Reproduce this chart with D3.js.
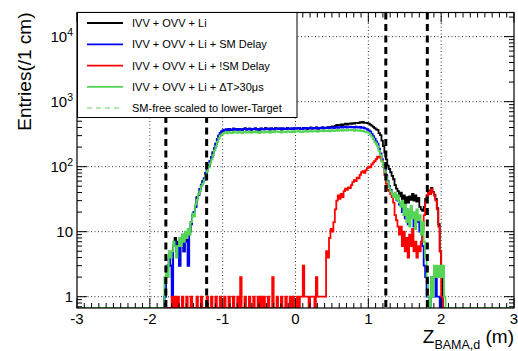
<!DOCTYPE html>
<html><head><meta charset="utf-8">
<script src="https://cdn.jsdelivr.net/npm/d3@7"></script>
<style>
body{margin:0;background:#fff}
svg{display:block;font-family:"Liberation Sans",Arial,Helvetica,sans-serif}
</style>
</head><body>
<svg id="c" width="518" height="351"></svg>
<script>
// ---------------- data (entries per bin, bin width 0.02 m) ----------------
const binWidth = 0.02;
const riseStart = -1.84, plateauStart = -0.98, fallStart = 1.00;

const blackRise = [0,0,1,2,3,4,3,2,6,8, 5,7,3,7,9,5,9,8,3,10, 14,18,20,24,34,37,45,53,60,66,
  80,93,105,122,141,165,195,226,265,300, 331,350,360];
const blackPlateau = [369,375,362,381,371,366,385,373,378,370, 382,376,365,379,387,371,377,384,368,380,
  377,389,372,382,367,386,378,375,390,379, 384,371,387,382,376,392,385,378,386,374,
  389,381,378,393,385,381,388,377,391,384, 388,395,383,380,393,387,395,382,388,398,
  386,393,389,400,384,395,391,402,388,397, 397,407,397,409,415,407,422,438,432,434,
  448,432,447,458,444,455,461,455,467,460, 471,472,466,483,478,487,470,473,467];
const blackFall = [460,443,428,410,392,375,367,328,305,252, 208,165,129,104,92,82,72,64,52,46, 42,35,
  40,30,36,27,34,28,35,31,38,30,36,29,33,24,
  22,21,24,32,36,43,38,47,41,37,32,23,13,5,2,0,0,0];

const blueRise = [0,0,1,2,3,4,3,1,6,7, 5,6,3,7,8,5,9,7,3,10, 13,18,20,24,33,37,45,52,60,66,
  80,92,105,122,140,165,195,225,265,300, 330,350,360];
const bluePlateau = [368,375,362,380,371,366,384,373,378,369, 382,374,365,379,386,371,377,383,368,380,
  376,389,372,381,367,385,378,374,390,379, 383,371,387,380,376,392,384,378,386,373,
  389,381,377,393,385,380,388,376,391,384, 387,395,382,379,390,386,394,381,388,397,
  385,392,389,398,383,394,390,401,387,396, 392,403,389,398,405,393,400,408,396,402,
  410,398,405,412,400,407,414,403,409,398, 411,404,400,408,396,402,390,385,372];
const blueFall = [360,345,320,295,270,245,225,190,160,130, 108,90,74,60,50,44,38,36,34,31,
  30,26,28,20,24,16,22,13,20,17, 18,12,19,14,16,10,12,6,3,2, 1,1,0,2,1,1,2,1,1,0, 1,0,0,0];

const redRise = [0,0,0,0,0,0,0,1,0,1, 0,1,0,0,1,0,0,1,0,0, 1,0,0,0,1,0,0,1,0,0,
  0,1,0,0,1,0,0,1,0,0, 1,0,0];
const redPlateau = [1,0,0,1,0,0,1,0,0,1, 0,2,0,0,1,0,0,1,0,0, 1,0,0,1,0,1,0,1,0,0,
  1,0,0,2,0,0,1,0,0,1, 0,0,1,0,0,1,0,1,0,0, 1,0,1,1,3,1,1,1,0,1,
  1,1,0,2,1,1,1,1,1,1, 5,4,8,11,10,14,22,30,36,32, 38,34,42,46,44,48,47,52,58,62,
  60,68,66,75,82,85,80,88,95];
const redFall = [100,98,108,115,122,130,142,138,145,122, 100,75,55,44,42,38,34,28,18,15,
  12,9,12,6,10,5,8,4,9,6, 11,5,7,4,6,5,7,11,18,28, 35,42,38,45,40,36,30,22,12,5, 1,0,0,0];

const greenRise = [0,0,2,3,2,5,4,5,7,6, 4,6,8,6,9,7,10,8,11,9, 14,19,17,26,31,38,42,50,55,62,
  74,85,98,112,128,150,178,205,240,275, 300,315,325];
const greenPlateau = [330,338,326,342,333,328,345,335,339,331, 343,336,327,340,347,333,338,344,330,341,
  337,349,334,342,329,346,339,335,350,340, 344,332,348,341,337,352,345,339,347,334,
  350,342,338,353,346,341,349,337,352,345, 348,355,343,340,351,347,354,342,349,357,
  346,352,350,358,344,354,351,360,348,356, 352,362,349,357,364,353,359,366,355,361,
  368,357,363,369,358,365,371,361,367,356, 368,362,357,364,352,356,345,338,336];
const greenFall = [330,310,290,265,240,225,205,175,150,120, 100,84,70,58,48,42,38,34,40,31,
  36,28,24,30,18,26,14,22,12,25, 16,20,11,22,15,18,9,14,7,4, 2,1,0,2,1,3,2,3,2,3, 2,3,1,0];

const seriesNames = ["IVV + OVV + Li", "IVV + OVV + Li + SM Delay", "IVV + OVV + Li + !SM Delay",
  "IVV + OVV + Li + \u0394T>30\u03bcs", "SM-free scaled to lower-Target"];
const seriesColors = ["#000000", "#0000ff", "#ff0000", "#55d455", "#a8e8a8"];

const xMajorTicks = [-3,-2,-1,0,1,2,3];
const yMajorTicks = [1,10,100,1000,10000];
const yTickBase = ["1","10","10","10","10"];
const yTickExp = ["","","2","3","4"];
const cutLines = [-1.78,-1.22,1.24,1.81];
const xDomain = [-3, 3], yDomain = [0.67, 23500];

// ---------------- drawing ----------------
const svg = d3.select("#c");
const L = 77, R = 514, T = 12.5, B = 308;
const x = d3.scaleLinear().domain(xDomain).range([L, R]);
const y = d3.scaleLog().domain(yDomain).range([B, T]);

svg.append("defs").append("clipPath").attr("id","pc")
  .append("rect").attr("x",L).attr("y",T).attr("width",R-L).attr("height",B-T);

// grid
const grid = svg.append("g").attr("stroke","#333").attr("stroke-width",1).attr("stroke-dasharray","1,2.5");
xMajorTicks.filter(v=>v>xDomain[0]&&v<xDomain[1]).forEach(v=>{
  grid.append("line").attr("x1",x(v)).attr("x2",x(v)).attr("y1",T).attr("y2",B);
});
yMajorTicks.forEach(v=>{
  grid.append("line").attr("x1",L).attr("x2",R).attr("y1",y(v)).attr("y2",y(v));
});

function bins(starts, segs){
  const out = [];
  segs.forEach((seg,k)=>{
    seg.forEach((v,i)=>{
      const x0 = starts[k] + i*binWidth;
      out.push({x0:x0, x1:x0+binWidth, v:v});
    });
  });
  return out;
}
function pts(b){
  const p = [{x:xDomain[0], v:0}, {x:b[0].x0, v:0}];
  b.forEach(d=>{ p.push({x:d.x0, v:d.v}); p.push({x:d.x1, v:d.v}); });
  p.push({x:b[b.length-1].x1, v:0}); p.push({x:xDomain[1], v:0});
  return p;
}
const starts = [riseStart, plateauStart, fallStart];
const series = [
  bins(starts,[blackRise,blackPlateau,blackFall]),
  bins(starts,[blueRise,bluePlateau,blueFall]),
  bins(starts,[redRise,redPlateau,redFall]),
  bins(starts,[greenRise,greenPlateau,greenFall])
];
const line = d3.line().x(d=>x(d.x)).y(d=> d.v>0 ? y(d.v) : B);
const plot = svg.append("g").attr("clip-path","url(#pc)");
series.forEach((s,k)=>{
  plot.append("path").attr("d", line(pts(s))).attr("fill","none")
    .attr("stroke", seriesColors[k]).attr("stroke-width",1.8).attr("stroke-linejoin","miter");
});

// cut lines
cutLines.forEach(v=>{
  svg.append("line").attr("x1",x(v)).attr("x2",x(v)).attr("y1",T).attr("y2",B)
    .attr("stroke","#000").attr("stroke-width",3).attr("stroke-dasharray","7,4.5");
});

// ticks
const tk = svg.append("g").attr("stroke","#000").attr("stroke-width",1);
const xMinor = d3.range(-30,31).map(i=>i/10);
xMinor.forEach(v=>{
  const major = Math.abs(v-Math.round(v))<1e-9;
  const len = major?10:5;
  tk.append("line").attr("x1",x(v)).attr("x2",x(v)).attr("y1",B).attr("y2",B-len);
  tk.append("line").attr("x1",x(v)).attr("x2",x(v)).attr("y1",T).attr("y2",T+len);
});
const yMinor = [];
[-1,0,1,2,3,4].forEach(d=>{ for(let k=1;k<=9;k++){ const v=k*Math.pow(10,d); if(v>=yDomain[0]&&v<=yDomain[1]) yMinor.push({v:v,major:k===1}); }});
yMinor.forEach(o=>{
  const len = o.major?10:5;
  tk.append("line").attr("x1",L).attr("x2",L+len).attr("y1",y(o.v)).attr("y2",y(o.v));
  tk.append("line").attr("x1",R).attr("x2",R-len).attr("y1",y(o.v)).attr("y2",y(o.v));
});

// frame
svg.append("rect").attr("x",L).attr("y",T).attr("width",R-L).attr("height",B-T)
  .attr("fill","none").attr("stroke","#000").attr("stroke-width",1.2);

// tick labels
xMajorTicks.forEach(v=>{
  svg.append("text").attr("x",x(v)).attr("y",323.5).attr("text-anchor","middle")
    .attr("font-size",15).text(v);
});
yMajorTicks.forEach((v,i)=>{
  const t = svg.append("text").attr("x",73).attr("y",y(v)+5.5).attr("text-anchor","end").attr("font-size",15);
  t.append("tspan").text(yTickBase[i]);
  if (yTickExp[i]) t.append("tspan").attr("dy",-6).attr("font-size",10.5).text(yTickExp[i]);
});

// axis titles
const xt = svg.append("text").attr("x",514).attr("y",343).attr("text-anchor","end").attr("font-size",19);
xt.append("tspan").text("Z");
xt.append("tspan").attr("dy",5.5).attr("font-size",12.5).text("BAMA,d");
xt.append("tspan").attr("dy",-5.5).text(" (m)");
svg.append("text").attr("transform","translate(31,12.5) rotate(-90)").attr("text-anchor","end")
  .attr("font-size",19).text("Entries(/1 cm)");

// legend
const lg = svg.append("g");
lg.append("rect").attr("x",77.5).attr("y",12.5).attr("width",219.5).attr("height",105)
  .attr("fill","#fff").attr("stroke","#000").attr("stroke-width",1);
const rowY = [23, 44.3, 65.6, 86.9, 108.2];
seriesNames.forEach((n,i)=>{
  lg.append("line").attr("x1",87).attr("x2",123).attr("y1",rowY[i]).attr("y2",rowY[i])
    .attr("stroke",seriesColors[i]).attr("stroke-width",1.8)
    .attr("stroke-dasharray", i===4 ? "5,4" : null);
  lg.append("text").attr("x",132).attr("y",rowY[i]+4).attr("font-size",11).text(n);
});
</script>
</body></html>
